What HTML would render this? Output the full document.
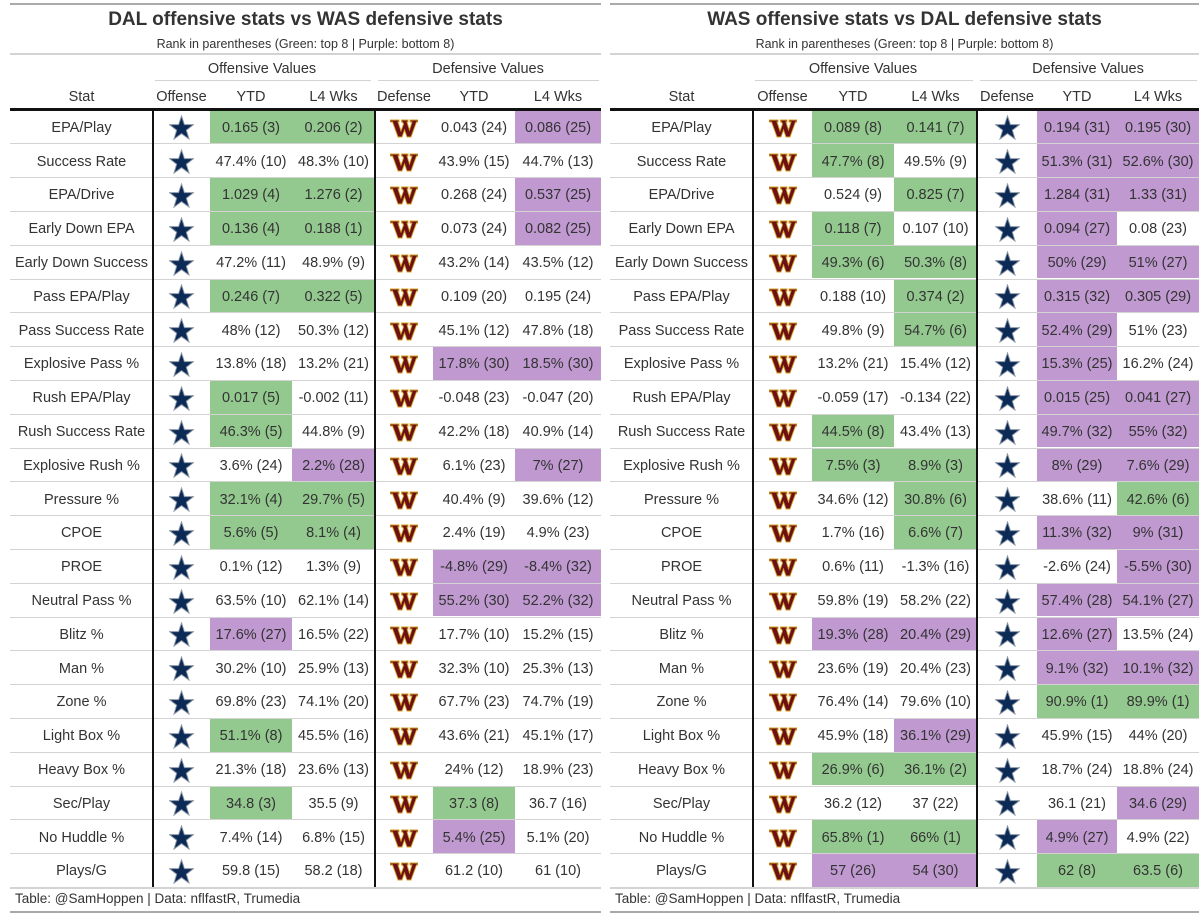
<!DOCTYPE html>
<html><head><meta charset="utf-8">
<style>
body{margin:0;width:1199px;height:916px;background:#fff;position:relative;overflow:hidden;font-family:"Liberation Sans","DejaVu Sans",sans-serif;color:#333}
.a{position:absolute;white-space:nowrap}
.c{position:absolute;display:flex;align-items:center;justify-content:center;font-size:14.5px;color:#333;padding-top:2px;box-sizing:border-box}
.hl{position:absolute}
</style></head>
<body>
<div id="root"></div>
<script>
const statNames=["EPA/Play","Success Rate","EPA/Drive","Early Down EPA","Early Down Success","Pass EPA/Play","Pass Success Rate","Explosive Pass %","Rush EPA/Play","Rush Success Rate","Explosive Rush %","Pressure %","CPOE","PROE","Neutral Pass %","Blitz %","Man %","Zone %","Light Box %","Heavy Box %","Sec/Play","No Huddle %","Plays/G"];
const leftOffYtd=["0.165",3,"47.4%",10,"1.029",4,"0.136",4,"47.2%",11,"0.246",7,"48%",12,"13.8%",18,"0.017",5,"46.3%",5,"3.6%",24,"32.1%",4,"5.6%",5,"0.1%",12,"63.5%",10,"17.6%",27,"30.2%",10,"69.8%",23,"51.1%",8,"21.3%",18,"34.8",3,"7.4%",14,"59.8",15];
const leftOffL4=["0.206",2,"48.3%",10,"1.276",2,"0.188",1,"48.9%",9,"0.322",5,"50.3%",12,"13.2%",21,"-0.002",11,"44.8%",9,"2.2%",28,"29.7%",5,"8.1%",4,"1.3%",9,"62.1%",14,"16.5%",22,"25.9%",13,"74.1%",20,"45.5%",16,"23.6%",13,"35.5",9,"6.8%",15,"58.2",18];
const leftDefYtd=["0.043",24,"43.9%",15,"0.268",24,"0.073",24,"43.2%",14,"0.109",20,"45.1%",12,"17.8%",30,"-0.048",23,"42.2%",18,"6.1%",23,"40.4%",9,"2.4%",19,"-4.8%",29,"55.2%",30,"17.7%",10,"32.3%",10,"67.7%",23,"43.6%",21,"24%",12,"37.3",8,"5.4%",25,"61.2",10];
const leftDefL4=["0.086",25,"44.7%",13,"0.537",25,"0.082",25,"43.5%",12,"0.195",24,"47.8%",18,"18.5%",30,"-0.047",20,"40.9%",14,"7%",27,"39.6%",12,"4.9%",23,"-8.4%",32,"52.2%",32,"15.2%",15,"25.3%",13,"74.7%",19,"45.1%",17,"18.9%",23,"36.7",16,"5.1%",20,"61",10];
const rightOffYtd=["0.089",8,"47.7%",8,"0.524",9,"0.118",7,"49.3%",6,"0.188",10,"49.8%",9,"13.2%",21,"-0.059",17,"44.5%",8,"7.5%",3,"34.6%",12,"1.7%",16,"0.6%",11,"59.8%",19,"19.3%",28,"23.6%",19,"76.4%",14,"45.9%",18,"26.9%",6,"36.2",12,"65.8%",1,"57",26];
const rightOffL4=["0.141",7,"49.5%",9,"0.825",7,"0.107",10,"50.3%",8,"0.374",2,"54.7%",6,"15.4%",12,"-0.134",22,"43.4%",13,"8.9%",3,"30.8%",6,"6.6%",7,"-1.3%",16,"58.2%",22,"20.4%",29,"20.4%",23,"79.6%",10,"36.1%",29,"36.1%",2,"37",22,"66%",1,"54",30];
const rightDefYtd=["0.194",31,"51.3%",31,"1.284",31,"0.094",27,"50%",29,"0.315",32,"52.4%",29,"15.3%",25,"0.015",25,"49.7%",32,"8%",29,"38.6%",11,"11.3%",32,"-2.6%",24,"57.4%",28,"12.6%",27,"9.1%",32,"90.9%",1,"45.9%",15,"18.7%",24,"36.1",21,"4.9%",27,"62",8];
const rightDefL4=["0.195",30,"52.6%",30,"1.33",31,"0.08",23,"51%",27,"0.305",29,"51%",23,"16.2%",24,"0.041",27,"55%",32,"7.6%",29,"42.6%",6,"9%",31,"-5.5%",30,"54.1%",27,"13.5%",24,"10.1%",32,"89.9%",1,"44%",20,"18.8%",24,"34.6",29,"4.9%",22,"63.5",6];

const root=document.getElementById('root');
const STAR='<svg width="25" height="25" viewBox="0 0 26 26"><polygon points="13,1 16,10 25.5,10 18,15.8 20.8,25 13,19.4 5.2,25 8,15.8 0.5,10 10,10" fill="#0b2a55" stroke="#8a95a5" stroke-width="1"/></svg>';
const W='<svg width="28" height="20" viewBox="0 0 28 20"><polygon points="0,2 9,2 9,4 8,4 11,13 13.5,6 12.5,4 11.5,4 11.5,2 18,2 18,4 17,4 19.5,12 22,4 20,4 20,2 28,2 28,4 26.5,4 21,19 17,19 14.5,12 12,19 8,19 2.5,4 0,4" fill="#6b1116" stroke="#d9a223" stroke-width="0.9"/></svg>';
function el(cls,x,y,w,h,html,name,style){
  const d=document.createElement('div');d.className=cls;
  d.style.left=x+'px';d.style.top=y+'px';
  if(w!=null)d.style.width=w+'px';if(h!=null)d.style.height=h+'px';
  if(style)d.style.cssText+=style;
  d.innerHTML=html;
  
  
  root.appendChild(d);return d;
}
const ROW0=110, RH=33.8;
function table(o){
  const L=o.x0,R=o.x1;
  el('hl',L,3,R-L,2,'','top-rule','background:#aaa');
  el('a',L,9,R-L,24,o.title,'table-title','text-align:center;font-weight:bold;font-size:19px;color:#333');
  el('a',L,37,R-L,16,'Rank in parentheses (Green: top 8 | Purple: bottom 8)','table-subtitle','text-align:center;font-size:12.5px;color:#333');
  el('hl',L,53,R-L,2,'','subtitle-rule','background:#d3d3d3');
  const c=o.cols;
  el('a',c[1],61,c[4]-c[1]-4,18,'Offensive Values','offensive-values-header','text-align:center;font-size:14.5px');
  el('hl',c[1]+2,80,c[4]-c[1]-6,1,'','offensive-spanner-rule','background:#d3d3d3');
  el('a',c[4],61,c[7]-c[4],18,'Defensive Values','defensive-values-header','text-align:center;font-size:14.5px');
  el('hl',c[4]+3,80,c[7]-c[4]-5,1,'','defensive-spanner-rule','background:#d3d3d3');
  const heads=['Stat','Offense','YTD','L4 Wks','Defense','YTD','L4 Wks'];
  const hn=['stat-header','offense-header','off-ytd-header','off-l4-header','defense-header','def-ytd-header','def-l4-header'];
  for(let i=0;i<7;i++) el('c',c[i],85,c[i+1]-c[i],22,heads[i],hn[i]);
  el('hl',L,108,R-L,2.5,'','header-rule','background:#111');
  const cols=[o.offYtd,o.offL4,o.defYtd,o.defL4];
  const cn=['off-ytd','off-l4','def-ytd','def-l4'];
  const ci=[2,3,5,6];
  for(let r=0;r<statNames.length;r++){
    const y=ROW0+r*RH;
    el('c',c[0],y,c[1]-c[0],RH,statNames[r],'stat-label');
    el('c',c[1],y,c[2]-c[1],RH,o.offLogo,'offense-logo');
    el('c',c[4],y,c[5]-c[4],RH,o.defLogo,'defense-logo');
    for(let k=0;k<4;k++){
      const v=cols[k][2*r],rk=cols[k][2*r+1];
      const bg=rk<=8?'#93c98f':(rk>=25?'#bf99d0':'transparent');
      el('c',c[ci[k]],y+0.5,c[ci[k]+1]-c[ci[k]],RH-1,v+' ('+rk+')',cn[k]+'-cell','background:'+bg);
    }
    if(r<statNames.length-1) el('hl',L,y+RH-0.5,R-L,1,'','row-rule','background:#d3d3d3');
  }
  const yb=ROW0+statNames.length*RH;
  el('hl',c[1]-1.5,108,2.5,yb-108,'','offense-divider','background:#111');
  el('hl',c[4]-1.5,108,2.5,yb-108,'','defense-divider','background:#111');
  el('hl',L,yb,R-L,2,'','bottom-rule','background:#d3d3d3');
  el('a',L+5,891,330,16,'Table: @SamHoppen | Data: nflfastR, Trumedia','source-note','font-size:13.5px;color:#333');
  el('hl',L,911,R-L,2,'','footer-rule','background:#aaa');
}
table({x0:10,x1:601,title:'DAL offensive stats vs WAS defensive stats',cols:[10,153,210,292,375,433,515,601],offLogo:STAR,defLogo:W,offYtd:leftOffYtd,offL4:leftOffL4,defYtd:leftDefYtd,defL4:leftDefL4});
table({x0:610,x1:1199,title:'WAS offensive stats vs DAL defensive stats',cols:[610,753,812,894,977,1037,1117,1199],offLogo:W,defLogo:STAR,offYtd:rightOffYtd,offL4:rightOffL4,defYtd:rightDefYtd,defL4:rightDefL4});
</script>
</body></html>
